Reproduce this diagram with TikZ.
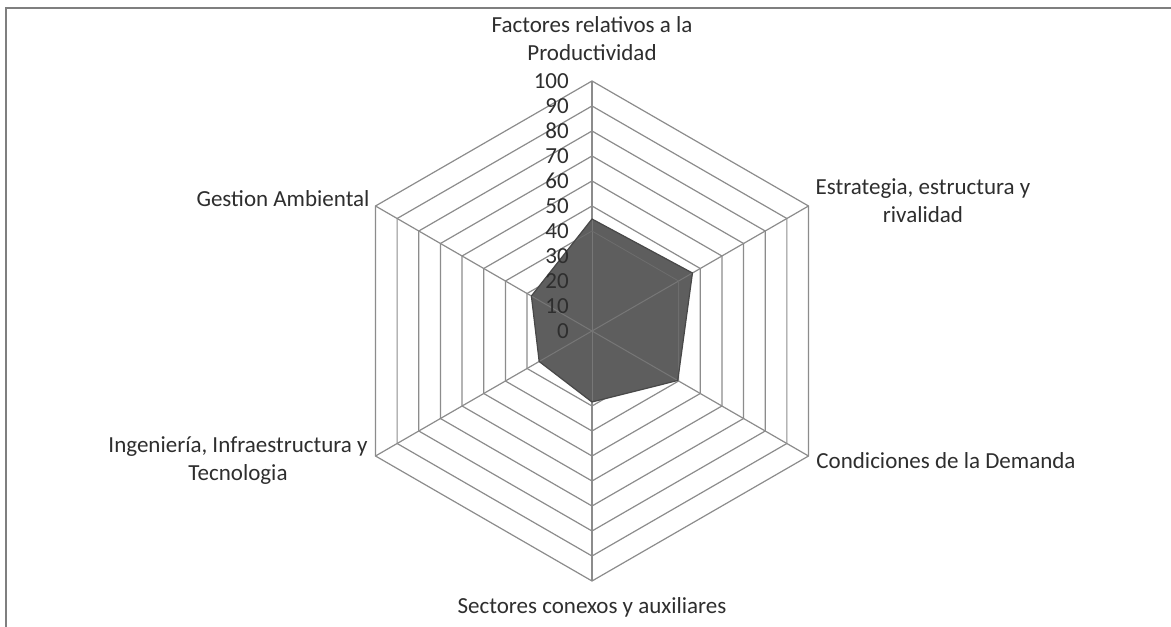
\documentclass[tikz,border=0pt]{standalone}
\usepackage{fontspec}
\setmainfont{Carlito}
\usetikzlibrary{calc}
\begin{document}
\begin{tikzpicture}[x=1pt,y=1pt,
  grid/.style={draw=gridgray,line width=1.2pt},
  lab/.style={text=txtgray,font=\fontsize{23}{28}\selectfont,align=center,inner sep=0pt},
  tick/.style={text=txtgray,font=\fontsize{23}{28}\selectfont,anchor=east,inner sep=0pt}]
\definecolor{gridgray}{HTML}{8C8C8C}
\definecolor{txtgray}{HTML}{2E2E2E}
\definecolor{fillgray}{HTML}{5E5E5E}
\definecolor{edgegray}{HTML}{484848}
\definecolor{spokegray}{HTML}{777777}
\definecolor{framegray}{HTML}{7F7F7F}
\useasboundingbox (0,0) rectangle (1171,627);
\fill[white] (0,0) rectangle (1171,627);
% frame
\draw[framegray,line width=2.2pt] (6,0) -- (6,619) -- (1171,619);
\coordinate (c) at (592,296);
% rings
\foreach \i in {1,...,10}{
  \draw[grid] ($(c)+(90:25*\i)$) -- ($(c)+(30:25*\i)$) -- ($(c)+(-30:25*\i)$) -- ($(c)+(-90:25*\i)$) -- ($(c)+(-150:25*\i)$) -- ($(c)+(150:25*\i)$) -- cycle;
}
\foreach \a in {90,30,-30,-90,-150,150}{
  \draw[grid] (c) -- ($(c)+(\a:250)$);
}
% data polygon
\coordinate (p1) at ($(c)+(90:112)$);
\coordinate (p2) at ($(c)+(30:116)$);
\coordinate (p3) at ($(c)+(-30:99)$);
\coordinate (p4) at ($(c)+(-90:71)$);
\coordinate (p5) at ($(c)+(-150:61)$);
\coordinate (p6) at ($(c)+(150:70)$);
\fill[black!22,shift={(2.5,-2.5)}] (p1) -- (p2) -- (p3) -- (p4) -- (p5) -- (p6) -- cycle;
\fill[fillgray] (p1) -- (p2) -- (p3) -- (p4) -- (p5) -- (p6) -- cycle;
\begin{scope}
  \clip (p1) -- (p2) -- (p3) -- (p4) -- (p5) -- (p6) -- cycle;
  \foreach \a in {90,30,-30,-90,-150,150}{
    \draw[spokegray,line width=1pt] (c) -- ($(c)+(\a:250)$);
  }
  \draw[spokegray!60!fillgray,line width=0.8pt] ($(c)+(90:100)$) -- ($(c)+(30:100)$) -- ($(c)+(-30:100)$) -- ($(c)+(-90:100)$) -- ($(c)+(-150:100)$) -- ($(c)+(150:100)$) -- cycle;
\end{scope}
\draw[edgegray,line width=1.2pt,line join=round] (p1) -- (p2) -- (p3) -- (p4) -- (p5) -- (p6) -- cycle;
% tick labels
\foreach \v [count=\k from 0] in {0,10,...,100}{
  \node[tick] (t\k) at (569,{296+2.5*\v}) {\v};
}
% axis labels
\node[lab] (lf) at (592,588) {Factores relativos a la\\Productividad};
\node[lab] (le) at (923,426) {Estrategia, estructura y\\rivalidad};
\node[lab] (lc) at (946,166) {Condiciones de la Demanda};
\node[lab] (ls) at (592,20) {Sectores conexos y auxiliares};
\node[lab] (li) at (238,166) {Ingeniería, Infraestructura y\\Tecnologia};
\node[lab] (lg) at (283,428) {Gestion Ambiental};
\end{tikzpicture}
\end{document}
